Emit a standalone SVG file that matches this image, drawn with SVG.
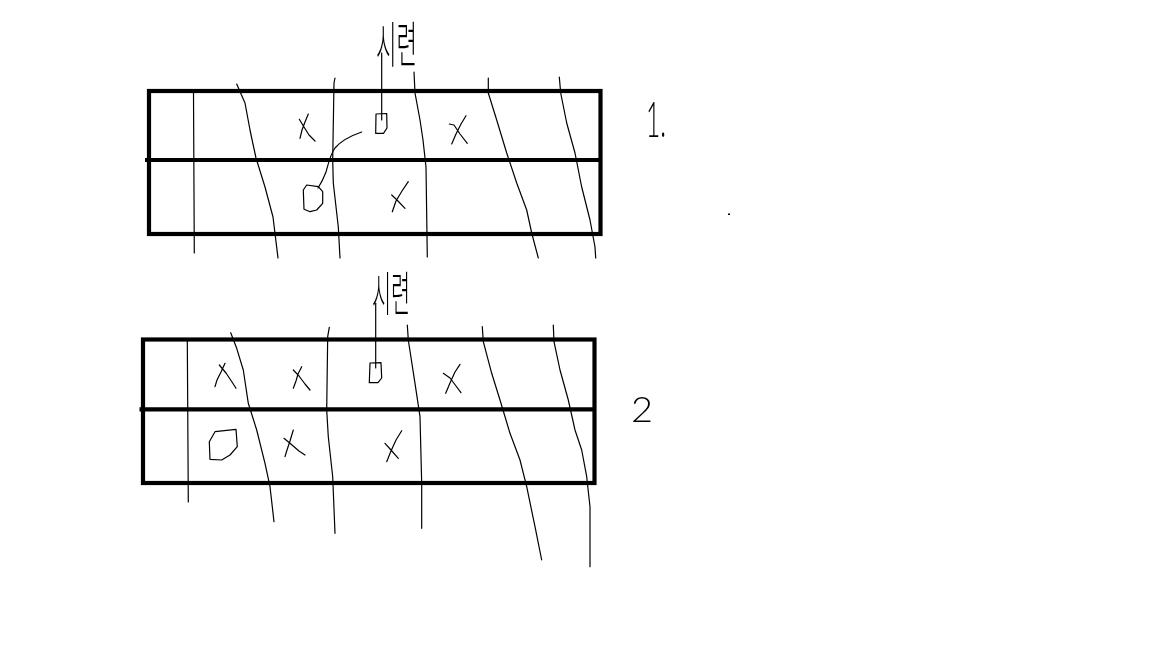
<svg xmlns="http://www.w3.org/2000/svg" width="1152" height="648" viewBox="0 0 1152 648">
<defs>
<filter id="gray" x="0" y="0" width="1" height="1"><feOffset dx="0" dy="0"/></filter>
</defs>
<style>
.thick{fill:none;stroke:#000;stroke-width:4.2}
.thin{fill:none;stroke:#000;stroke-width:1.2;stroke-linejoin:round;stroke-linecap:round}
.kr{font-family:"Noto Sans CJK KR","Noto Sans CJK SC",sans-serif;font-weight:300;fill:#000}
.num{font-family:"Lato","Noto Sans","Liberation Sans",sans-serif;font-weight:300;fill:#000}
</style>
<rect width="1152" height="648" fill="#fff"/>
<g id="board1">
<rect class="thick" x="149" y="91" width="451.5" height="143"/>
<path class="thick" d="M145 160 H600.5"/>
</g>
<g id="board2">
<rect class="thick" x="143" y="339.5" width="451.5" height="143.5"/>
<path class="thick" d="M139.5 409.3 H594.5"/>
</g>
<g id="connectors">
<path class="thin" d="M193.5 93 L194.3 253"/>
<path class="thin" d="M236.7 84 L245 103 L250 130 L256 158 L265 187 L273 217 L278 258"/>
<path class="thin" d="M335 78 L334 83 L332.7 160 L333.3 183 L338.3 227 L340 258"/>
<path class="thin" d="M414 72 L415 93 L420 120 L423 140 L426 167 L427.3 257"/>
<path class="thin" d="M488.3 78 L488.3 93 L496.7 120 L506.7 153 L516.7 183 L526.7 210 L531.7 233 L538.3 258"/>
<path class="thin" d="M559.3 77 L560.7 93 L566.7 123 L575 153 L581.7 187 L590 220 L595 247 L595.7 258"/>
<path class="thin" d="M381.7 53 V120"/>
<path class="thin" d="M361.7 132 C350 136 340 142 335 148 C330 155 328 165 326 172 C323 180 320 185 318 188"/>
<path class="thin" d="M187.3 340 L188.3 502"/>
<path class="thin" d="M230.7 332.7 L236.7 348.3 L243.3 370 L248.3 403.3 L256.7 430 L265 463.3 L270 486.7 L274 521.7"/>
<path class="thin" d="M329.3 327.3 L327.7 336.7 L326.7 410 L328.3 436.7 L332.7 476.7 L335 533.3"/>
<path class="thin" d="M407.3 325 L408.3 340 L415 383.3 L420 416.7 L421.7 483.3 L421.7 528.3"/>
<path class="thin" d="M482.3 326.7 L483.3 341.7 L491.7 373.3 L500 400 L510 433.3 L520 460 L526.7 486.7 L535 526.7 L541.7 560"/>
<path class="thin" d="M553.3 325 L554 341.7 L560 370 L568.3 400 L575 430 L581.7 450 L586.7 476.7 L590 506.7 L590 566.7"/>
<path class="thin" d="M375.7 303.3 V368"/>
</g>
<g id="marks1">
<path class="thin" d="M299.3 119.3 L304 127 L309 135 L315 141 M308.3 114 L305 122 L302 130 L300 138.3"/>
<path class="thin" d="M376 114 L386.7 113.5 L387 128 L383.5 133.3 L375.7 133.3 Z"/>
<path class="thin" d="M306.7 185 L318.3 186.7 L322.7 191.7 L322.7 203.3 L316.7 210 L310 211.7 L304 209.3 L303.3 190 Z"/>
<path class="thin" d="M408.3 181.7 L402 191 L396 201 L392.3 211.7 M391.7 195 L397 200 L405 208.3"/>
<path class="thin" d="M449.3 124 L454 125 L460 134 L467.3 143.3 M466 115.7 L461 124 L456 134 L451.7 144"/>
</g>
<g id="marks2">
<path class="thin" d="M225 363.3 L221 372 L217 380 L215 386.7 M219.3 365 L226 373 L232 382 L236 388.3"/>
<path class="thin" d="M301.7 366.7 L298 374 L296 381 L293.3 388.3 M293.3 370 L299 376 L305 384 L310 390"/>
<path class="thin" d="M370 363 L381 362.7 L381.7 378 L378 382.7 L369.3 382.7 Z"/>
<path class="thin" d="M215 431.7 L236 429.3 L237.3 446.7 L230 455 L221.7 460 L210 459.3 L209.3 441.7 Z"/>
<path class="thin" d="M293.3 430 L290 441 L287 450 L285 456.7 M284 438.3 L292 445 L299 451 L305 455"/>
<path class="thin" d="M401.7 430.7 L396 440 L391 451 L386.7 461.7 M385 443.3 L391 450 L398.3 458.3"/>
<path class="thin" d="M460 364.3 L455 372 L450 383 L445.7 393.3 M443.3 373.3 L450 378 L456 386 L461 392.7"/>
</g>
<g id="labels" filter="url(#gray)">
<text class="kr" x="376" y="63" font-size="50" textLength="41" lengthAdjust="spacingAndGlyphs">시련</text>
<text class="kr" x="372" y="311" font-size="48" textLength="38" lengthAdjust="spacingAndGlyphs">시련</text>
<text class="num" x="646" y="137" font-size="50" textLength="20" lengthAdjust="spacingAndGlyphs">1.</text>
<text class="num" x="631" y="422" font-size="36" textLength="22" lengthAdjust="spacingAndGlyphs">2</text>
<rect x="728" y="213.5" width="2" height="1.5" fill="#000"/>
</g>
</svg>
